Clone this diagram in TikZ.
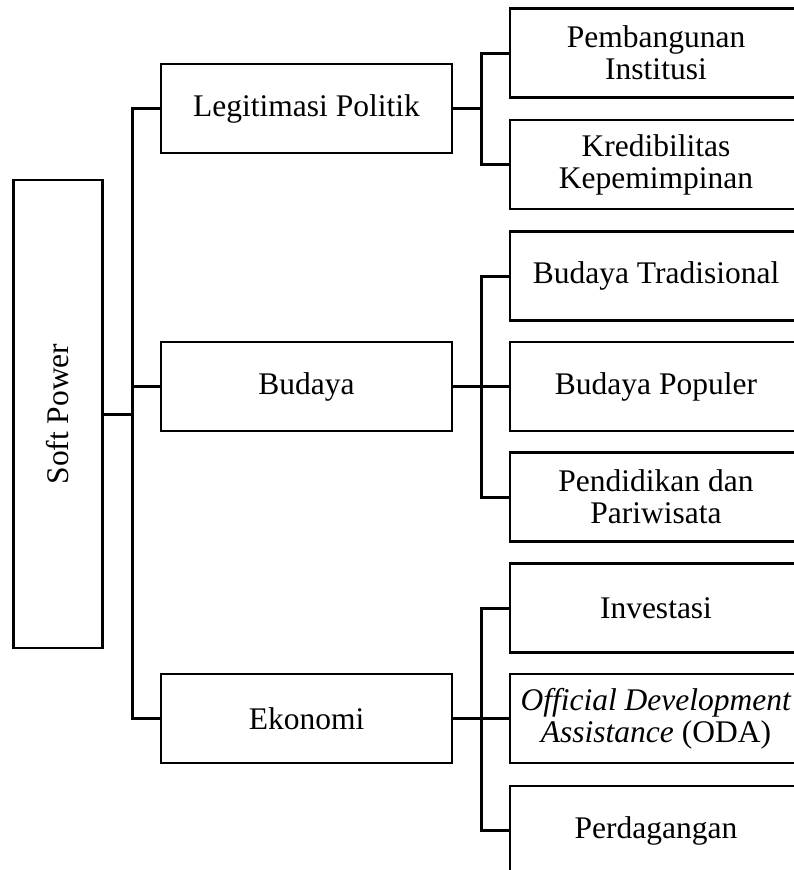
\documentclass[tikz,border=0pt]{standalone}
\usepackage{fontspec}
\setmainfont{Liberation Serif}
\begin{document}
\begin{tikzpicture}[x=1pt,y=-1pt,
  box/.style={draw, line width=2.6pt, inner sep=0pt, align=center, font=\fontsize{31.5}{32}\selectfont},
  midbox/.style={box, minimum width=291pt, minimum height=89pt},
  leafbox/.style={box, minimum width=292pt, minimum height=89pt},
  conn/.style={line width=3pt}]
\useasboundingbox (0,0) rectangle (794,870);
\clip (0,0) rectangle (794,870);
\node[box, rotate=90, minimum width=468pt, minimum height=89pt] (sp) at (58,414) {Soft Power};
\node[midbox] (l1) at (306.5,108.5) {Legitimasi Politik};
\node[midbox] (l2) at (306.5,386.5) {Budaya};
\node[midbox] (l3) at (306.5,718.5) {Ekonomi};
\node[leafbox] (r1) at (656,53) {Pembangunan\\Institusi};
\node[leafbox] (r2) at (656,164.5) {Kredibilitas\\Kepemimpinan};
\node[leafbox] (r3) at (656,276) {Budaya Tradisional};
\node[leafbox] (r4) at (656,386.5) {Budaya Populer};
\node[leafbox] (r5) at (656,497) {Pendidikan dan\\Pariwisata};
\node[leafbox] (r6) at (656,608) {Investasi};
\node[leafbox] (r7) at (656,718.5) {\textit{Official Development}\\\textit{Assistance} (ODA)};
\node[leafbox] (r8) at (656,830.5) {Perdagangan};
\coordinate (t) at (132,414);
\coordinate (b1) at (481,108.5);
\coordinate (b2) at (481,386.5);
\coordinate (b3) at (481,718.5);
\draw[conn] (sp.south) -- (t);
\draw[conn] (l1.west) -| (t) |- (l3.west);
\draw[conn] (l2.west) -- (l2.west -| t);
\draw[conn] (l1.east) -- (b1);
\draw[conn] (r1.west) -| (b1) |- (r2.west);
\draw[conn] (l2.east) -- (r4.west);
\draw[conn] (r3.west) -| (b2) |- (r5.west);
\draw[conn] (l3.east) -- (r7.west);
\draw[conn] (r6.west) -| (b3) |- (r8.west);
\end{tikzpicture}
\end{document}
